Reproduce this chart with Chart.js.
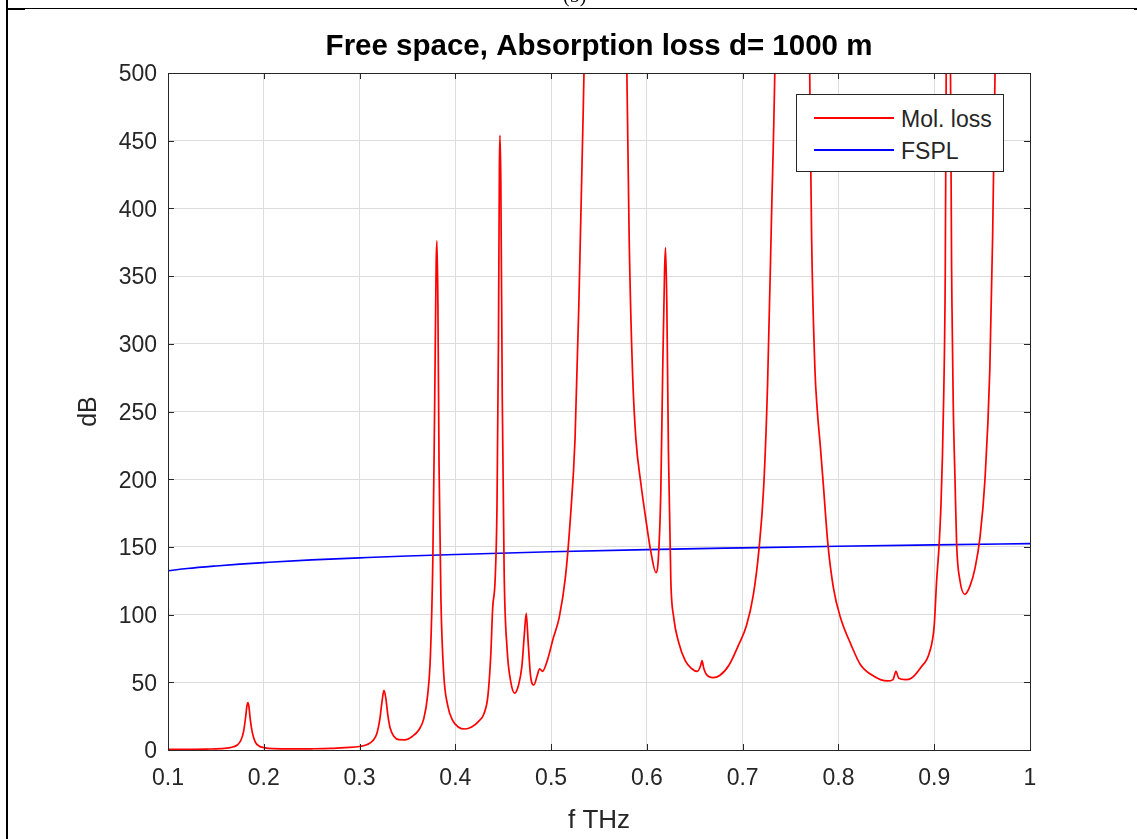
<!DOCTYPE html>
<html>
<head>
<meta charset="utf-8">
<title>Free space, Absorption loss d= 1000 m</title>
<script src="https://cdn.jsdelivr.net/npm/chart.js@4.4.1/dist/chart.umd.min.js"></script>
<style>
  html, body { margin: 0; padding: 0; background: #fff; }
  #wrap { position: relative; width: 1137px; height: 839px; overflow: hidden; }
  #plot { position: absolute; left: 0; top: 0; }
  .rule { position: absolute; background: #000; }
  #caption { position: absolute; left: 563px; top: -16px; font: 20px "Liberation Serif", "DejaVu Serif", serif; color: #000; }
  #legend {
    position: absolute; left: 796px; top: 94px; width: 206px; height: 76px;
    border: 1px solid #262626; background: #fff;
    font: 23px "Liberation Sans", Arial, sans-serif; color: #262626;
  }
  #legend .item { position: absolute; left: 0; height: 30px; width: 206px; }
  #legend .swatch { position: absolute; left: 17px; top: 14px; width: 80px; height: 2px; }
  #legend .label { position: absolute; left: 104px; top: 1px; line-height: 30px; white-space: nowrap; }
</style>
</head>
<body>
<div id="wrap">
  <canvas id="plot" width="1137" height="839"></canvas>
  <div id="caption">(5)</div>
  <div class="rule" style="left:6px; top:0; width:2px; height:839px;"></div>
  <div class="rule" style="left:6px; top:8px; width:1131px; height:1px;"></div>
  <div class="rule" style="left:8px; top:9px; width:17px; height:1px;"></div>
  <div class="rule" style="left:1134px; top:8px; width:3px; height:2px;"></div>
  <div id="legend"></div>
</div>
<script>
/* -------- Data -------- */
// molecular absorption loss, f in THz, loss in dB (lines above 500 run off the axes)
const molFreq = [
  0.100, 0.120, 0.140, 0.155, 0.165, 0.172, 0.176, 0.179, 0.181, 0.1825, 0.1835, 0.1845, 0.186, 0.188, 0.191, 0.195,
  0.200, 0.210, 0.230, 0.250, 0.270, 0.285, 0.300, 0.308, 0.314, 0.318, 0.321, 0.3235, 0.3255, 0.3275, 0.3295, 0.332,
  0.336, 0.341, 0.347, 0.355, 0.362, 0.367, 0.371, 0.374, 0.3765, 0.3785, 0.3800, 0.3808, 0.3818, 0.3830, 0.3850, 0.3880,
  0.3920, 0.3970, 0.4030, 0.4100, 0.4170, 0.4240, 0.4300, 0.4340, 0.4370, 0.4390, 0.4415, 0.4435, 0.4450, 0.4460, 0.4466,
  0.4475, 0.4490, 0.4510, 0.4540, 0.4580, 0.4620, 0.4660, 0.4695, 0.4720, 0.4740, 0.4760, 0.4785, 0.4820, 0.4855, 0.4880,
  0.4910, 0.4960, 0.5020, 0.5085, 0.5150, 0.5200, 0.5250, 0.5290, 0.5325, 0.5360, 0.5420, 0.5570, 0.5720, 0.5780, 0.5815,
  0.5850, 0.5885, 0.5937, 0.5990, 0.6040, 0.6095, 0.6120, 0.6145, 0.6165, 0.6185, 0.6195, 0.6208, 0.6225, 0.6250, 0.6280,
  0.6330, 0.6400, 0.6470, 0.6525, 0.6560, 0.6575, 0.6595, 0.6620, 0.6690, 0.6760, 0.6860, 0.6960, 0.7040, 0.7110, 0.7170,
  0.7220, 0.7260, 0.7300, 0.7340, 0.7400, 0.7520, 0.7640, 0.7700, 0.7720, 0.7754, 0.7780, 0.7810, 0.7840, 0.7890, 0.7947,
  0.8020, 0.8130, 0.8230, 0.8370, 0.8510, 0.8570, 0.8600, 0.8630, 0.8700, 0.8760, 0.8860, 0.8950, 0.9000, 0.9025, 0.9050,
  0.9070, 0.9085, 0.9100, 0.9115, 0.9125, 0.9135, 0.9148, 0.9162, 0.9170, 0.9185, 0.9200, 0.9217, 0.9234, 0.9269, 0.9320,
  0.9373, 0.9425, 0.9478, 0.9530, 0.9580, 0.9610, 0.9635, 0.9680, 0.9880, 1.000
];
const molLoss = [
  0.5, 0.5, 0.7, 1.0, 1.8, 3.5, 7, 14, 24, 33, 35, 32, 22, 13, 6, 3,
  1.8, 1.0, 0.8, 0.9, 1.2, 1.8, 2.6, 4, 7, 12, 22, 36, 44, 38, 26, 16,
  10, 7.6, 7.5, 10, 15, 23, 40, 70, 140, 260, 360, 376, 330, 210, 110, 55,
  33, 22, 17, 15.5, 17, 21, 27, 40, 70, 105, 125, 180, 300, 430, 454,
  420, 260, 130, 75, 50, 42, 48, 62, 85, 101, 80, 55, 48, 55, 60,
  58, 66, 82, 98, 128, 170, 230, 330, 440, 560, 900, 3000, 900, 560, 378,
  279, 230, 197, 170, 147, 131, 142, 190, 280, 355, 371, 330, 220, 125, 98,
  80, 66, 60, 58, 62, 66, 60, 56, 53.5, 55, 63, 78, 92, 114, 148,
  195, 270, 390, 520, 900, 3000, 900, 500, 378, 282, 250, 225, 198, 152, 120,
  98, 78, 63, 54.5, 51, 52, 58, 53, 52, 53, 61, 72, 92, 125, 150,
  180, 215, 265, 350, 500, 800, 2500, 800, 500, 330, 250, 200, 152, 125, 115,
  121, 134, 157, 200, 280, 380, 500, 800, 3000, 1500
];

// free space path loss
const fsplFreq = [0.10, 0.12, 0.15, 0.175, 0.20, 0.25, 0.30, 0.35, 0.40, 0.50, 0.60, 0.70, 0.80, 0.90, 1.00];
const fsplLoss = [132.4, 134.0, 135.9, 137.3, 138.4, 140.4, 141.9, 143.3, 144.4, 146.4, 148.0, 149.3, 150.5, 151.5, 152.4];

const xTicks = { min: 0.1, max: 1, step: 0.1 };
const yTicks = { min: 0, max: 500, step: 50 };

const FONT = "'Liberation Sans', Arial, Helvetica, sans-serif";
const AXIS_COLOR = "#262626";

function toPoints(xs, ys) {
  return xs.map((x, i) => ({ x: x, y: ys[i] }));
}

/* -------- MATLAB style box with inward ticks on all four sides -------- */
const boxTicks = {
  id: "boxTicks",
  afterDraw(chart) {
    const { ctx, chartArea: a, scales } = chart;
    const len = 6;
    ctx.save();
    ctx.strokeStyle = AXIS_COLOR;
    ctx.lineWidth = 1;
    ctx.beginPath();
    scales.x.ticks.forEach(t => {
      const px = Math.round(scales.x.getPixelForValue(t.value)) + 0.5;
      ctx.moveTo(px, a.bottom); ctx.lineTo(px, a.bottom - len);
      ctx.moveTo(px, a.top);    ctx.lineTo(px, a.top + len);
    });
    scales.y.ticks.forEach(t => {
      const py = Math.round(scales.y.getPixelForValue(t.value)) + 0.5;
      ctx.moveTo(a.left, py);  ctx.lineTo(a.left + len, py);
      ctx.moveTo(a.right, py); ctx.lineTo(a.right - len, py);
    });
    ctx.stroke();
    ctx.strokeRect(Math.round(a.left) + 0.5, Math.round(a.top) + 0.5,
                   Math.round(a.right - a.left), Math.round(a.bottom - a.top));
    ctx.restore();
  }
};

const chart = new Chart(document.getElementById("plot").getContext("2d"), {
  type: "line",
  data: {
    datasets: [
      {
        label: "Mol. loss",
        data: toPoints(molFreq, molLoss),
        borderColor: "#ff0000",
        borderWidth: 1.7,
        pointRadius: 0,
        cubicInterpolationMode: "monotone",
        clip: 0
      },
      {
        label: "FSPL",
        data: toPoints(fsplFreq, fsplLoss),
        borderColor: "#0000ff",
        borderWidth: 1.6,
        pointRadius: 0,
        cubicInterpolationMode: "monotone",
        clip: 0
      }
    ]
  },
  options: {
    responsive: false,
    devicePixelRatio: 1,
    animation: false,
    events: [],
    layout: { padding: { left: 70, right: 107, top: 0, bottom: 0 } },
    plugins: {
      legend: { display: false },
      tooltip: { enabled: false },
      title: {
        display: true,
        fullSize: false,
        text: "Free space, Absorption loss d= 1000 m",
        color: "#000",
        font: { family: FONT, size: 29.5, weight: "bold" },
        padding: { top: 29.5, bottom: 8.1 }
      }
    },
    scales: {
      x: {
        type: "linear",
        min: xTicks.min, max: xTicks.max,
        grid: { color: "#dcdcdc", drawTicks: false },
        border: { display: false },
        ticks: {
          stepSize: xTicks.step,
          padding: 15,
          color: AXIS_COLOR,
          font: { family: FONT, size: 23 },
          maxRotation: 0,
          callback: v => String(+v.toFixed(1))
        },
        title: {
          display: true, text: "f THz", color: AXIS_COLOR,
          font: { family: FONT, size: 26 }, padding: { top: 4, bottom: 3 }
        },
        afterFit: s => { s.height = 89; }
      },
      y: {
        min: yTicks.min, max: yTicks.max,
        grid: { color: "#dcdcdc", drawTicks: false },
        border: { display: false },
        ticks: {
          stepSize: yTicks.step,
          padding: 11,
          labelOffset: 2,
          color: AXIS_COLOR,
          font: { family: FONT, size: 23 }
        },
        title: {
          display: true, text: "dB", color: AXIS_COLOR,
          font: { family: FONT, size: 25 }, padding: { top: 4, bottom: 4 }
        },
        afterFit: s => { s.width = 98; }
      }
    }
  },
  plugins: [boxTicks]
});

/* -------- Legend inside the axes, top right -------- */
const legendEl = document.getElementById("legend");
chart.data.datasets.forEach((ds, i) => {
  const item = document.createElement("div");
  item.className = "item";
  item.style.top = (8 + i * 32) + "px";
  item.innerHTML = '<div class="swatch" style="background:' + ds.borderColor + '; height:1.5px"></div>' +
                   '<div class="label">' + ds.label + '</div>';
  legendEl.appendChild(item);
});
</script>
</body>
</html>
